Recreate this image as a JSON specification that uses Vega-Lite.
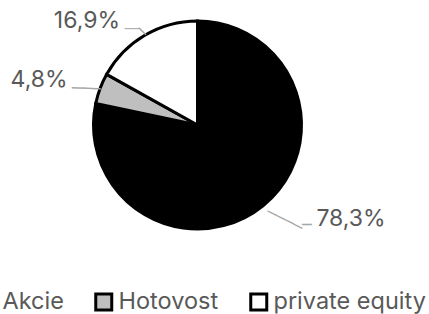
{
  "$schema": "https://vega.github.io/schema/vega-lite/v6.json",
  "width": 395,
  "height": 250,
  "padding": {"left": 0, "top": 0, "right": 34, "bottom": 64},
  "autosize": "none",
  "background": "white",
  "config": {
    "view": {"stroke": null},
    "locale": {"number": {"decimal": ",", "thousands": " ", "grouping": [3], "currency": ["", " Kč"]}},
    "text": {"font": "Inter"}
  },
  "data": {
    "values": [
      {"category": "Akcie", "value": 0.783},
      {"category": "Hotovost", "value": 0.048},
      {"category": "private equity", "value": 0.169}
    ]
  },
  "encoding": {
    "theta": {"field": "value", "type": "quantitative", "stack": true},
    "detail": {"field": "category", "type": "nominal"},
    "order": {"field": "category", "sort": "ascending"}
  },
  "layer": [
    {
      "mark": {"type": "arc", "outerRadius": 104, "stroke": "#000000", "strokeWidth": 3},
      "encoding": {
        "color": {
          "field": "category",
          "type": "nominal",
          "scale": {"domain": ["Akcie", "Hotovost", "private equity"], "range": ["#000000", "#bfbfbf", "#ffffff"]},
          "legend": {
            "orient": "none",
            "legendX": -24,
            "legendY": 290,
            "direction": "horizontal",
            "title": null,
            "symbolType": "square",
            "symbolSize": 256,
            "symbolStrokeColor": "#000000",
            "symbolStrokeWidth": 3,
            "symbolOpacity": 1,
            "labelFont": "Inter",
            "labelFontSize": 23.5,
            "labelColor": "#595959",
            "labelOffset": 3,
            "columnPadding": 25
          }
        }
      }
    },
    {
      "mark": {"type": "text", "radius": 130, "align": "left", "baseline": "alphabetic", "dx": 37, "dy": 0, "fontSize": 23, "color": "#595959"},
      "encoding": {
        "text": {"field": "value", "type": "quantitative", "format": ".1%"},
        "opacity": {"condition": {"test": "datum.category === 'Akcie'", "value": 1}, "value": 0}
      }
    },
    {
      "mark": {"type": "text", "radius": 135, "align": "right", "baseline": "alphabetic", "dx": -3.5, "dy": 9.6, "fontSize": 23, "color": "#595959"},
      "encoding": {
        "text": {"field": "value", "type": "quantitative", "format": ".1%"},
        "opacity": {"condition": {"test": "datum.category === 'Hotovost'", "value": 1}, "value": 0}
      }
    },
    {
      "mark": {"type": "text", "radius": 112, "align": "right", "baseline": "alphabetic", "dx": -20.8, "dy": 0, "fontSize": 23, "color": "#595959"},
      "encoding": {
        "text": {"field": "value", "type": "quantitative", "format": ".1%"},
        "opacity": {"condition": {"test": "datum.category === 'private equity'", "value": 1}, "value": 0}
      }
    },
    {
      "mark": {"type": "text", "text": "────", "font": "DejaVu Sans Mono", "fontSize": 16, "radius": 125, "align": "center", "baseline": "middle", "angle": 26.6, "dx": 6.7, "dy": -5.5, "color": "#a6a6a6"},
      "encoding": {
        "opacity": {"condition": {"test": "datum.category === 'Akcie'", "value": 1}, "value": 0}
      }
    },
    {
      "mark": {"type": "text", "text": "─", "font": "DejaVu Sans Mono", "fontSize": 16, "radius": 140, "align": "center", "baseline": "middle", "dx": 21.2, "dy": -8.7, "color": "#a6a6a6"},
      "encoding": {
        "opacity": {"condition": {"test": "datum.category === 'Akcie'", "value": 1}, "value": 0}
      }
    },
    {
      "mark": {"type": "text", "text": "───", "font": "DejaVu Sans Mono", "fontSize": 16, "radius": 118, "align": "center", "baseline": "middle", "angle": 2, "dx": -0.5, "dy": 5.1, "color": "#a6a6a6"},
      "encoding": {
        "opacity": {"condition": {"test": "datum.category === 'Hotovost'", "value": 1}, "value": 0}
      }
    },
    {
      "mark": {"type": "text", "text": "─", "font": "DejaVu Sans Mono", "fontSize": 16, "radius": 108, "align": "center", "baseline": "middle", "angle": 45, "dx": -0.9, "dy": 0.4, "color": "#a6a6a6"},
      "encoding": {
        "opacity": {"condition": {"test": "datum.category === 'private equity'", "value": 1}, "value": 0}
      }
    },
    {
      "mark": {"type": "text", "text": "──", "font": "DejaVu Sans Mono", "fontSize": 12, "radius": 112, "align": "center", "baseline": "middle", "dx": -8.8, "dy": 0.9, "color": "#a6a6a6"},
      "encoding": {
        "opacity": {"condition": {"test": "datum.category === 'private equity'", "value": 1}, "value": 0}
      }
    }
  ]
}
